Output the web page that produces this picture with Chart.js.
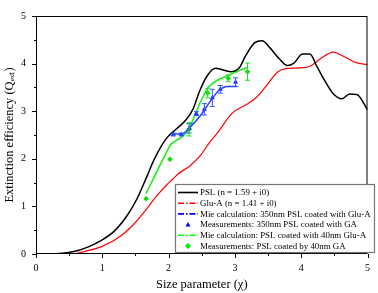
<!DOCTYPE html>
<html>
<head>
<meta charset="utf-8">
<script src="https://cdn.jsdelivr.net/npm/chart.js@4/dist/chart.umd.min.js"></script>
<style>
  html, body { margin: 0; padding: 0; background: #fff; }
  #wrap { width: 378px; height: 293px; position: relative; }
</style>
</head>
<body>
<div id="wrap"><canvas id="chart" width="378" height="293"></canvas></div>
<script>
// PSL (n = 1.59 + i0)
const pslX = [0, 0.3, 0.49, 0.65, 0.79, 0.98, 1.18, 1.38, 1.52, 1.67, 1.77, 1.87, 1.98, 2.12, 2.27, 2.37, 2.47, 2.59, 2.71, 2.94, 3.06, 3.16, 3.30, 3.41, 3.53, 3.67, 3.79, 3.89, 4.02, 4.13, 4.24, 4.36, 4.48, 4.61, 4.73, 4.84, 5.0];
const pslY = [0, 0.005, 0.03, 0.08, 0.15, 0.28, 0.48, 0.82, 1.15, 1.62, 1.95, 2.22, 2.45, 2.63, 2.83, 3.05, 3.43, 3.76, 3.90, 3.83, 3.90, 4.16, 4.44, 4.48, 4.33, 4.10, 3.96, 4.01, 4.20, 4.20, 3.93, 3.63, 3.37, 3.26, 3.36, 3.35, 3.03];

// Glu-A (n = 1.41 + i0)
const gluX = [0, 0.54, 0.75, 0.98, 1.28, 1.47, 1.67, 1.82, 1.97, 2.06, 2.15, 2.32, 2.49, 2.61, 2.74, 2.96, 3.16, 3.30, 3.45, 3.65, 3.80, 3.99, 4.14, 4.29, 4.48, 4.63, 4.83, 5.0];
const gluY = [0, 0.0, 0.06, 0.15, 0.38, 0.62, 0.95, 1.22, 1.45, 1.57, 1.69, 1.85, 2.09, 2.33, 2.55, 2.96, 3.13, 3.26, 3.49, 3.83, 3.90, 3.91, 3.95, 4.10, 4.24, 4.16, 4.02, 3.98];

// Mie calculation: 350nm PSL coated with Glu-A
const mie350X = [2.05, 2.20, 2.32, 2.47, 2.62, 2.76, 2.89, 3.03];
const mie350Y = [2.52, 2.52, 2.66, 2.89, 3.19, 3.44, 3.52, 3.52];

// Measurements: 350nm PSL coated with GA
const meas350X = [2.07, 2.19, 2.31, 2.42, 2.54, 2.66, 2.78, 3.01];
const meas350Y = [2.51, 2.51, 2.64, 2.95, 3.04, 3.28, 3.46, 3.61];
const meas350Err = [0.03, 0.03, 0.10, 0.04, 0.12, 0.18, 0.08, 0.09];

// Mie calculation: PSL coated with 40nm Glu-A
const mie40X = [1.66, 2.03, 2.20, 2.30, 2.37, 2.47, 2.59, 2.71, 2.89, 3.18];
const mie40Y = [1.27, 2.30, 2.46, 2.60, 2.83, 3.16, 3.49, 3.63, 3.75, 3.92];

// Measurements: PSL coated by 40nm GA
const meas40X = [1.66, 2.02, 2.31, 2.59, 2.90, 3.19];
const meas40Y = [1.16, 1.99, 2.62, 3.38, 3.69, 3.83];
const meas40Err = [0, 0, 0.14, 0.10, 0.07, 0.18];

const axisTicks = [0, 1, 2, 3, 4, 5];

const legendItems = [
  { text: 'PSL (n = 1.59 + i0)', color: '#000000', dash: [], marker: null },
  { text: 'Glu-A (n = 1.41 + i0)', color: '#ff0000', dash: [6, 2, 1.5, 2], marker: null },
  { text: 'Mie calculation: 350nm PSL coated with Glu-A', color: '#0000ff', dash: [6, 2, 1.5, 2], marker: null },
  { text: 'Measurements: 350nm PSL coated with GA', color: '#0000ff', dash: null, marker: 'triangle' },
  { text: 'Mie calculation: PSL coated with 40nm Glu-A', color: '#00ff00', dash: [6, 2, 1.5, 2], marker: null },
  { text: 'Measurements: PSL coated by 40nm GA', color: '#00ee00', dash: null, marker: 'diamond' }
];

const toPts = (xs, ys) => xs.map((x, i) => ({ x: x, y: ys[i] }));
const SERIF = '"Liberation Serif", "Times New Roman", serif';

// frame, minor ticks, error bars, legend
const extrasPlugin = {
  id: 'extras',
  afterDatasetsDraw(chart) {
    const ctx = chart.ctx;
    const xs = chart.scales.x, ys = chart.scales.y;
    const bars = [
      { xs: meas350X, ys: meas350Y, err: meas350Err, color: '#3355ff' },
      { xs: meas40X, ys: meas40Y, err: meas40Err, color: '#22dd22' }
    ];
    ctx.save();
    ctx.lineWidth = 1;
    bars.forEach(b => {
      ctx.strokeStyle = b.color;
      b.xs.forEach((x, i) => {
        if (!b.err[i]) return;
        const px = xs.getPixelForValue(x);
        const y1 = ys.getPixelForValue(b.ys[i] + b.err[i]);
        const y2 = ys.getPixelForValue(b.ys[i] - b.err[i]);
        ctx.beginPath();
        ctx.moveTo(px, y1); ctx.lineTo(px, y2);
        ctx.moveTo(px - 2.5, y1); ctx.lineTo(px + 2.5, y1);
        ctx.moveTo(px - 2.5, y2); ctx.lineTo(px + 2.5, y2);
        ctx.stroke();
      });
    });
    ctx.restore();
  },
  afterDraw(chart) {
    const ctx = chart.ctx;
    const a = chart.chartArea;
    const xs = chart.scales.x, ys = chart.scales.y;
    ctx.save();
    ctx.strokeStyle = '#000';
    ctx.lineWidth = 1;
    ctx.strokeRect(a.left + 0.5, a.top + 0.5, a.right - a.left - 1, a.bottom - a.top - 1);
    ctx.beginPath();
    for (let v = 0; v <= 5.001; v += 0.5) {
      const major = Math.abs(v - Math.round(v)) < 0.01;
      const len = major ? 4 : 2;
      const px = Math.round(xs.getPixelForValue(v)) + 0.5;
      ctx.moveTo(px, a.bottom); ctx.lineTo(px, a.bottom + len);
      const py = Math.round(ys.getPixelForValue(v)) + 0.5;
      ctx.moveTo(a.left, py); ctx.lineTo(a.left - len, py);
    }
    ctx.stroke();

    // legend
    const bx = 175, by = 184, bw = 199, bh = 68;
    ctx.fillStyle = '#fff';
    ctx.fillRect(bx, by, bw, bh);
    ctx.strokeStyle = '#777';
    ctx.lineWidth = 1.2;
    ctx.strokeRect(bx + 0.5, by + 0.5, bw, bh);
    // fit the longest entry into the box
    let fs = 9.5;
    ctx.font = fs + 'px ' + SERIF;
    const widest = Math.max(...legendItems.map(it => ctx.measureText(it.text).width));
    if (widest > 171) fs = fs * 171 / widest;
    ctx.font = fs.toFixed(2) + 'px ' + SERIF;
    ctx.textBaseline = 'middle';
    legendItems.forEach((it, i) => {
      const y = by + 8.5 + i * 10.7;
      if (it.dash) {
        ctx.strokeStyle = it.color;
        ctx.lineWidth = 1.6;
        ctx.setLineDash(it.dash);
        ctx.beginPath();
        ctx.moveTo(178, y); ctx.lineTo(198, y);
        ctx.stroke();
        ctx.setLineDash([]);
      } else {
        ctx.fillStyle = it.color;
        ctx.beginPath();
        if (it.marker === 'triangle') {
          ctx.moveTo(188, y - 2.5); ctx.lineTo(190.5, y + 2); ctx.lineTo(185.5, y + 2);
        } else {
          ctx.moveTo(188, y - 3); ctx.lineTo(191, y); ctx.lineTo(188, y + 3); ctx.lineTo(185, y);
        }
        ctx.closePath();
        ctx.fill();
      }
      ctx.fillStyle = '#000';
      ctx.fillText(it.text, 200, y + 0.5);
    });
    ctx.restore();
  }
};

const ctx = document.getElementById('chart');
new Chart(ctx, {
  type: 'scatter',
  data: {
    datasets: [
      { label: 'PSL (n = 1.59 + i0)', data: toPts(pslX, pslY), showLine: true, borderColor: '#000', borderWidth: 1.5, pointRadius: 0, cubicInterpolationMode: 'monotone' },
      { label: 'Glu-A (n = 1.41 + i0)', data: toPts(gluX, gluY), showLine: true, borderColor: '#ff0000', borderWidth: 1.2, pointRadius: 0, cubicInterpolationMode: 'monotone' },
      { label: 'Mie calculation: 350nm PSL coated with Glu-A', data: toPts(mie350X, mie350Y), showLine: true, borderColor: '#2244ff', borderWidth: 1.5, pointRadius: 0, cubicInterpolationMode: 'monotone' },
      { label: 'Measurements: 350nm PSL coated with GA', data: toPts(meas350X, meas350Y), pointStyle: 'triangle', pointRadius: 2.3, backgroundColor: '#0000ff', borderColor: '#0000ff', borderWidth: 0.5 },
      { label: 'Mie calculation: PSL coated with 40nm Glu-A', data: toPts(mie40X, mie40Y), showLine: true, borderColor: '#22ee22', borderWidth: 1.6, pointRadius: 0, tension: 0.1 },
      { label: 'Measurements: PSL coated by 40nm GA', data: toPts(meas40X, meas40Y), pointStyle: 'rectRot', pointRadius: 2.5, backgroundColor: '#00dd00', borderColor: '#00dd00', borderWidth: 0.5 }
    ]
  },
  options: {
    responsive: false,
    animation: false,
    layout: { padding: { top: 5, right: 3, left: 0, bottom: 0 } },
    plugins: { legend: { display: false }, tooltip: { enabled: false } },
    scales: {
      x: {
        type: 'linear', min: 0, max: 5,
        afterBuildTicks: s => { s.ticks = axisTicks.map(v => ({ value: v })); },
        afterFit: s => { s.height = 39; },
        grid: { display: false, drawTicks: false },
        border: { display: false },
        ticks: { color: '#000', padding: 8, font: { family: SERIF, size: 10 }, autoSkip: false, maxRotation: 0 },
        title: { display: true, text: 'Size parameter (\u03c7)', color: '#000', font: { family: SERIF, size: 12.5 }, padding: { top: 0, bottom: 1 } }
      },
      y: {
        type: 'linear', min: 0, max: 5,
        afterBuildTicks: s => { s.ticks = axisTicks.map(v => ({ value: v })); },
        afterFit: s => { s.width = 36; },
        grid: { display: false, drawTicks: false },
        border: { display: false },
        ticks: { color: '#000', padding: 10, font: { family: SERIF, size: 10 }, autoSkip: false },
        title: { display: true, text: 'Extinction efficiency (Q\u2091\u2093\u209c)', color: '#000', font: { family: SERIF, size: 12.5 }, padding: { top: 2, bottom: 0 } }
      }
    }
  },
  plugins: [extrasPlugin]
});
</script>
</body>
</html>
